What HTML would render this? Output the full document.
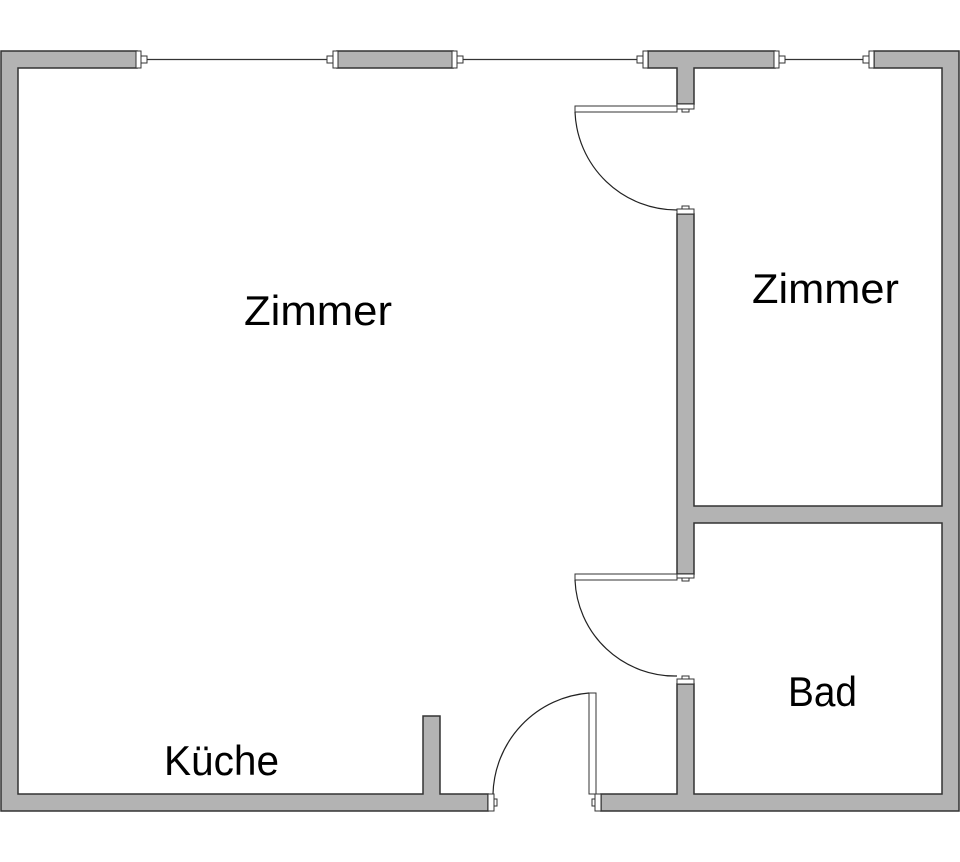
<!DOCTYPE html>
<html><head><style>body{margin:0;background:#fff}svg{display:block}</style></head>
<body>
<svg width="960" height="862" viewBox="0 0 960 862" xmlns="http://www.w3.org/2000/svg">
<g fill="#b3b3b3" stroke="#333" stroke-width="1.5">
<!-- left piece top-left corner -->
<path d="M1,51 H137 V68 H18 V794 H423 V716 H440 V794 H488 V811 H1 Z"/>
<!-- top middle piece -->
<rect x="337" y="51" width="116" height="17"/>
<!-- top T piece -->
<path d="M648,51 H775 V68 H694 V104 H677 V68 H648 Z"/>
<!-- right piece -->
<path d="M874,51 H959 V811 H601 V794 H677 V684 H694 V794 H942 V523 H694 V574 H677 V214 H694 V506 H942 V68 H874 Z"/>
</g>
<!-- window frames -->
<g fill="#fff" stroke="#333" stroke-width="1">
<rect x="136" y="51" width="5" height="17"/><rect x="141" y="56" width="6" height="7"/>
<rect x="333" y="51" width="5" height="17"/><rect x="327" y="56" width="6" height="7"/>
<rect x="452" y="51" width="5" height="17"/><rect x="457" y="56" width="6" height="7"/>
<rect x="643" y="51" width="5" height="17"/><rect x="637" y="56" width="6" height="7"/>
<rect x="774" y="51" width="5" height="17"/><rect x="779" y="56" width="6" height="7"/>
<rect x="869" y="51" width="5" height="17"/><rect x="863" y="56" width="6" height="7"/>
</g>
<g stroke="#333" stroke-width="1.2" fill="none">
<line x1="147" y1="59.5" x2="327" y2="59.5"/>
<line x1="463" y1="59.5" x2="637" y2="59.5"/>
<line x1="785" y1="59.5" x2="863" y2="59.5"/>
</g>
<!-- door jambs -->
<g fill="#fff" stroke="#333" stroke-width="1">
<rect x="677" y="104" width="17" height="5"/><rect x="682" y="109" width="7" height="3"/>
<rect x="677" y="209" width="17" height="5"/><rect x="682" y="206" width="7" height="3"/>
<rect x="677" y="574" width="17" height="4"/><rect x="682" y="578" width="7" height="3"/>
<rect x="677" y="679" width="17" height="5"/><rect x="682" y="676" width="7" height="3"/>
<rect x="488" y="794" width="6" height="17"/><rect x="494" y="799" width="3" height="7"/>
<rect x="595" y="794" width="6" height="17"/><rect x="592" y="799" width="3" height="7"/>
<!-- door panels -->
<rect x="575" y="106" width="102" height="6"/>
<rect x="575" y="574" width="102" height="6"/>
<rect x="589" y="693" width="7" height="101"/>
</g>
<g stroke="#222" stroke-width="1.2" fill="none">
<path d="M575,112 A102,102 0 0 0 677,210"/>
<path d="M575,580 A100,100 0 0 0 677,676"/>
<path d="M589,693 A104,104 0 0 0 493,794"/>
</g>
<g font-family="Liberation Sans, sans-serif" font-size="42" fill="#000">
<text x="244" y="325" textLength="148" lengthAdjust="spacingAndGlyphs">Zimmer</text>
<text x="752" y="303" textLength="147" lengthAdjust="spacingAndGlyphs">Zimmer</text>
<text x="788" y="706" textLength="69" lengthAdjust="spacingAndGlyphs">Bad</text>
<text x="164" y="775" textLength="115" lengthAdjust="spacingAndGlyphs">Küche</text>
</g>
</svg>
</body></html>
